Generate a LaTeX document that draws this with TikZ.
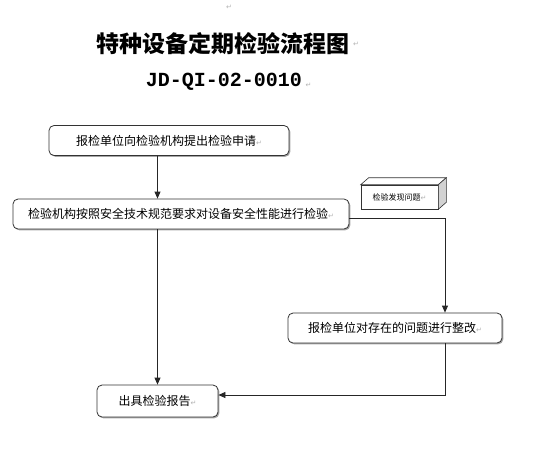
\documentclass[tikz,border=0pt]{standalone}
\usepackage{fontspec}
\usepackage{xcolor}
\newfontfamily\cjk{Noto Sans CJK SC}
\newfontfamily\markfont{DejaVu Sans}
\newfontfamily\codefont{Liberation Mono}
\usetikzlibrary{arrows.meta, positioning, shadows, calc}

\newcommand{\retmark}{{\markfont\color{gray!60}\fontsize{7}{7}\selectfont ↵}}

\begin{document}
\begin{tikzpicture}[
    x=1pt, y=-1pt,
    >={Triangle[length=7pt,width=6pt]},
    stepbox/.style={draw=black!80, line width=0.8pt, fill=white, rectangle, rounded corners=5pt, minimum height=30pt, align=center, font=\cjk\fontsize{12}{14}\selectfont, inner sep=2pt,
        drop shadow={shadow xshift=1.3pt, shadow yshift=-1.3pt, fill=gray!70, opacity=1}},
    cubeface/.style={draw=black!80, line width=0.6pt, fill=white, rectangle, minimum width=77pt, minimum height=24pt, inner sep=1pt, font=\cjk\fontsize{8}{9}\selectfont},
    flow/.style={->, line width=0.8pt, draw=black!85}
]
\useasboundingbox (0,0) rectangle (536,467);

% Title
\node[font=\cjk\bfseries\fontsize{23}{26}\selectfont] (title) at (223,44) {特种设备定期检验流程图};
\node[anchor=west, inner sep=0pt] (titlemark) at (title.east) {\retmark};
\node[font=\codefont\bfseries\fontsize{20}{22}\selectfont] (code) at (224,82) {JD-QI-02-0010};
\node[anchor=west, inner sep=0pt, yshift=-3pt] (codemark) at (code.east) {\retmark};
\node[inner sep=0pt] (topmark) at (229,7) {\retmark};

% Steps
\node[stepbox, minimum width=240pt] (apply) at (169,140.5) {报检单位向检验机构提出检验申请\retmark};
\node[stepbox, minimum width=336pt] (inspect) at (181,214) {检验机构按照安全技术规范要求对设备安全性能进行检验\retmark};
\node[stepbox, minimum width=214pt] (rectify) at (395,328) {报检单位对存在的问题进行整改\retmark};
\node[stepbox, minimum width=121pt, minimum height=32pt] (report) at (157.5,401) {出具检验报告\retmark};

% Problem found (box)
\node[cubeface] (found) at (399.5,197) {检验发现问题\retmark};
\draw[draw=black!80, line width=0.6pt, fill=white] (found.north west) -- ++(8,-7) -- ($(found.north east)+(8,-7)$) -- (found.north east) -- cycle;
\draw[draw=black!80, line width=0.6pt, fill=gray!35] (found.north east) -- ++(8,-7) -- ($(found.south east)+(8,-7)$) -- (found.south east) -- cycle;

% Connectors
\draw[flow] (report.north |- apply.south) -- (report.north |- inspect.north);
\draw[flow] (report.north |- inspect.south) -- (report.north);
\draw[flow] ([yshift=-4pt]inspect.east) -| ([xshift=50pt]rectify.north);
\draw[flow] ([xshift=50pt]rectify.south) |- ([yshift=6pt]report.east);

\end{tikzpicture}
\end{document}
